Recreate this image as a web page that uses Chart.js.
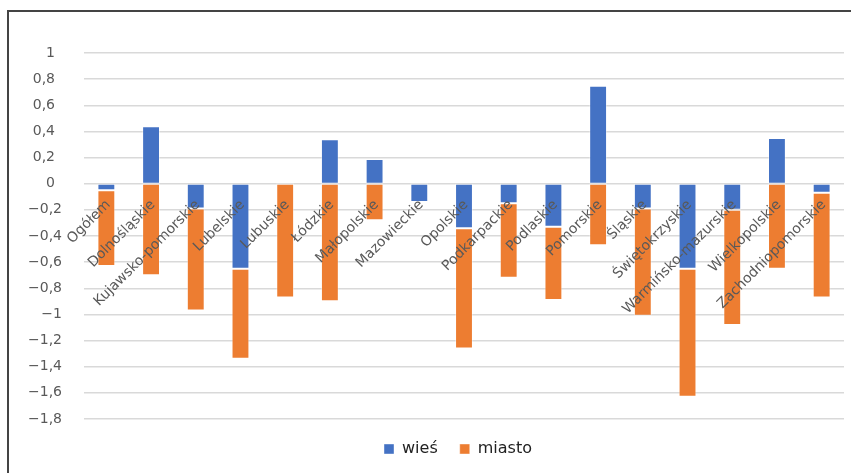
<!DOCTYPE html>
<html>
<head>
<meta charset="utf-8">
<script src="https://cdn.jsdelivr.net/npm/chart.js@4"></script>
<style>
  html, body { margin: 0; padding: 0; background: #fff; }
  #wrap { width: 851px; height: 473px; }
</style>
</head>
<body>
<div id="wrap"><canvas id="myChart" width="851" height="473"></canvas></div>
<script>
// categories (voivodeships)
const labels = ['Ogółem', 'Dolnośląskie', 'Kujawsko-pomorskie', 'Lubelskie', 'Lubuskie', 'Łódzkie',
  'Małopolskie', 'Mazowieckie', 'Opolskie', 'Podkarpackie', 'Podlaskie', 'Pomorskie', 'Śląskie',
  'Świętokrzyskie', 'Warmińsko-mazurskie', 'Wielkopolskie', 'Zachodniopomorskie']

// series values
const wies = [-0.05, 0.44, -0.19, -0.65, 0.01, 0.34, 0.19, -0.14, -0.34, -0.15, -0.33, 0.75, -0.19, -0.65, -0.20, 0.35, -0.07]
const miasto = [-0.58, -0.70, -0.78, -0.69, -0.87, -0.90, -0.28, 0.01, -0.92, -0.57, -0.56, -0.47, -0.82, -0.98, -0.88, -0.65, -0.80]

// y axis range
const yMin = -1.8
const yMax = 1
const yStep = 0.2

const fmt = (value) => {
  const v = Math.round(value * 10) / 10
  const s = String(Math.abs(v)).replace('.', ',')
  return v < 0 ? '\u2212' + s : s + '\u2002'
}

// white background + the frame lines on top and left
const framePlugin = {
  id: 'frame',
  beforeDraw(chart) {
    const ctx = chart.ctx
    ctx.save()
    ctx.fillStyle = '#fff'
    ctx.fillRect(0, 0, chart.width, chart.height)
    ctx.strokeStyle = '#444'
    ctx.lineWidth = 2
    ctx.beginPath()
    ctx.moveTo(8, chart.height)
    ctx.lineTo(8, 11)
    ctx.lineTo(chart.width, 11)
    ctx.stroke()
    ctx.restore()
  },
  // nudge the legend a bit to the left like in the original
  afterLayout(chart) {
    chart.legend.left -= 6
    chart.legend.right -= 6
  },
}

const ctx = document.getElementById('myChart').getContext('2d')
const chart = new Chart(ctx, {
  type: 'bar',
  data: {
    labels: labels,
    datasets: [
      {
        label: 'wieś',
        data: wies,
        backgroundColor: '#4472C4',
        borderColor: 'rgba(255,255,255,0.4)',
        borderWidth: 1,
        borderSkipped: false,
      },
      {
        label: 'miasto',
        data: miasto,
        backgroundColor: '#ED7D31',
        borderColor: 'rgba(255,255,255,0.4)',
        borderWidth: 1,
        borderSkipped: false,
      },
    ],
  },
  options: {
    responsive: false,
    animation: false,
    devicePixelRatio: 1,
    categoryPercentage: 0.8,
    barPercentage: 0.5,
    layout: { padding: { left: 0, right: 7, top: 53, bottom: 6 } },
    plugins: {
      tooltip: { enabled: false },
      legend: {
        position: 'bottom',
        fullSize: false,
        labels: {
          boxWidth: 10,
          boxHeight: 10,
          padding: 22,
          color: '#222',
          font: { family: 'DejaVu Sans', size: 16 },
        },
      },
    },
    scales: {
      x: {
        stacked: true,
        position: { y: 0 },
        grid: { display: false, drawTicks: false },
        border: { display: false },
        ticks: {
          z: 1, // labels over the bars
          autoSkip: false,
          minRotation: 45,
          maxRotation: 45,
          padding: 13,
          labelOffset: 2,
          color: '#595959',
          font: { family: 'DejaVu Sans', size: 14 },
        },
      },
      y: {
        stacked: true,
        min: yMin,
        max: yMax,
        grid: { color: '#D9D9D9', lineWidth: 1.5, drawTicks: false },
        border: { display: false },
        afterFit(scale) { scale.width = 84 },
        ticks: {
          stepSize: yStep,
          padding: 22,
          color: '#595959',
          font: { family: 'DejaVu Sans', size: 14 },
          callback: fmt,
        },
      },
    },
  },
  plugins: [framePlugin],
})
</script>
</body>
</html>
